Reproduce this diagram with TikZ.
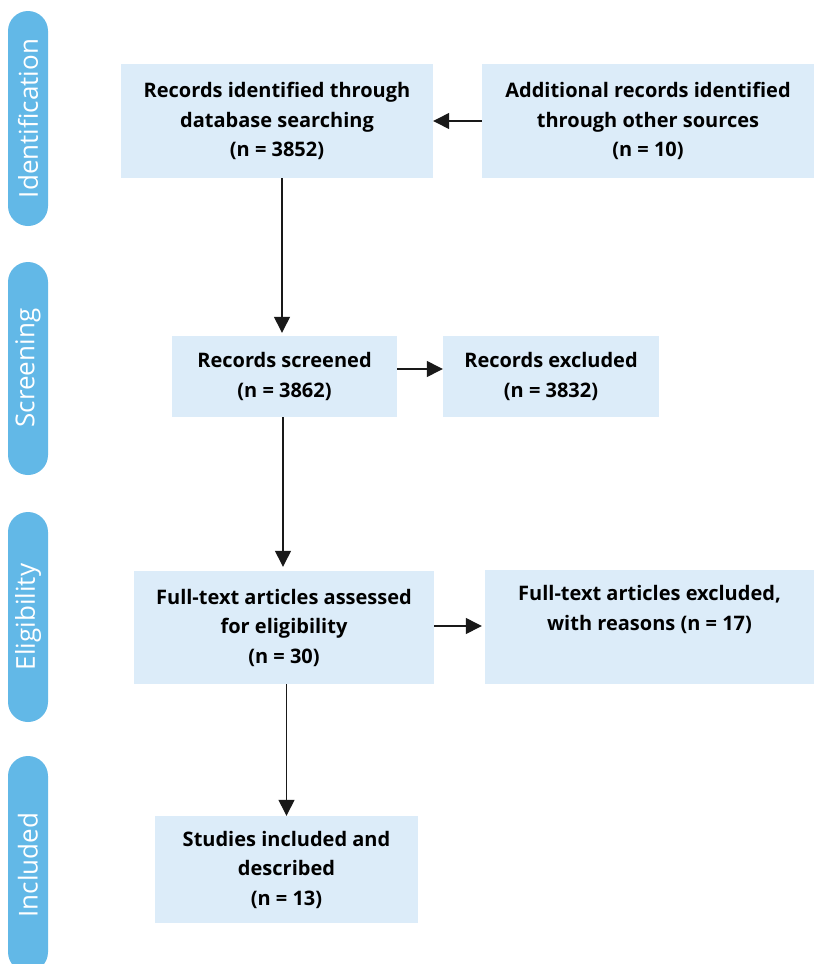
\documentclass[tikz,border=0pt]{standalone}
\usepackage{fontspec}
\setmainfont{Open Sans}
\usetikzlibrary{arrows.meta}
\definecolor{pillblue}{RGB}{98,184,231}
\definecolor{boxblue}{RGB}{220,236,249}
\definecolor{linecol}{RGB}{25,25,25}
\tikzset{
  pill/.style={fill=pillblue, draw=none, rounded corners=20pt},
  pilltext/.style={text=white, font=\fontsize{26}{30}\selectfont, rotate=90, inner sep=0pt},
  boxnode/.style={fill=boxblue, draw=none, inner sep=0pt, align=center,
    font=\fontsize{20}{29.5}\selectfont\bfseries, text=black},
  arr/.style={draw=linecol, line width=1.3pt, -{Triangle[length=16pt,width=16pt]}}
}
\begin{document}
\begin{tikzpicture}[x=1pt,y=-1pt]
\clip (0,0) rectangle (814,964);
\fill[white] (0,0) rectangle (814,964);
% side pills
\fill[pill] (8,11) rectangle (48,226);
\fill[pill] (8,262) rectangle (48,475);
\fill[pill] (8,512) rectangle (48,722);
\fill[pill] (8,756) rectangle (48,972);
\node[pilltext] (pid) at (28,118.5) {Identification};
\node[pilltext] (psc) at (28,368) {Screening};
\node[pilltext] (pel) at (28,617) {Eligibility};
\node[pilltext] (pin) at (28,865) {Included};
% boxes
\node[boxnode, minimum width=312pt, minimum height=114pt] (b1) at (277,121)
  {Records identified through\\database searching\\(n = 3852)};
\node[boxnode, minimum width=332pt, minimum height=114pt] (b2) at (648,121)
  {Additional records identified\\through other sources\\(n = 10)};
\node[boxnode, minimum width=225pt, minimum height=81pt] (b3) at (284.5,376.5)
  {Records screened\\(n = 3862)};
\node[boxnode, minimum width=216pt, minimum height=81pt] (b4) at (551,376.5)
  {Records excluded\\(n = 3832)};
\node[boxnode, minimum width=300pt, minimum height=113pt] (b5) at (284,627.5)
  {Full-text articles assessed\\for eligibility\\(n = 30)};
\node[boxnode, minimum width=329pt, minimum height=114pt] (b6) at (649.5,627)
  {Full-text articles excluded,\\with reasons (n = 17)\\\strut};
\node[boxnode, minimum width=263pt, minimum height=107pt] (b7) at (286.5,869.5)
  {Studies included and\\described\\(n = 13)};
% connectors
\draw[arr] (b2.west) -- (b1.east);
\draw[arr, shorten >=3pt] ([xshift=5pt]b1.south) -- ([xshift=5pt]b1.south |- b3.north);
\draw[arr] ([yshift=7.5pt]b3.east) -- ([yshift=7.5pt]b3.east -| b4.west);
\draw[arr, shorten >=4pt] ([xshift=-1.5pt]b3.south) -- ([xshift=-1.5pt]b3.south |- b5.north);
\draw[arr, shorten >=3pt] ([yshift=1.5pt]b5.east) -- ([yshift=1.5pt]b5.east -| b6.west);
\draw[arr] (b5.south -| b7.north) -- (b7.north);
\end{tikzpicture}
\end{document}
